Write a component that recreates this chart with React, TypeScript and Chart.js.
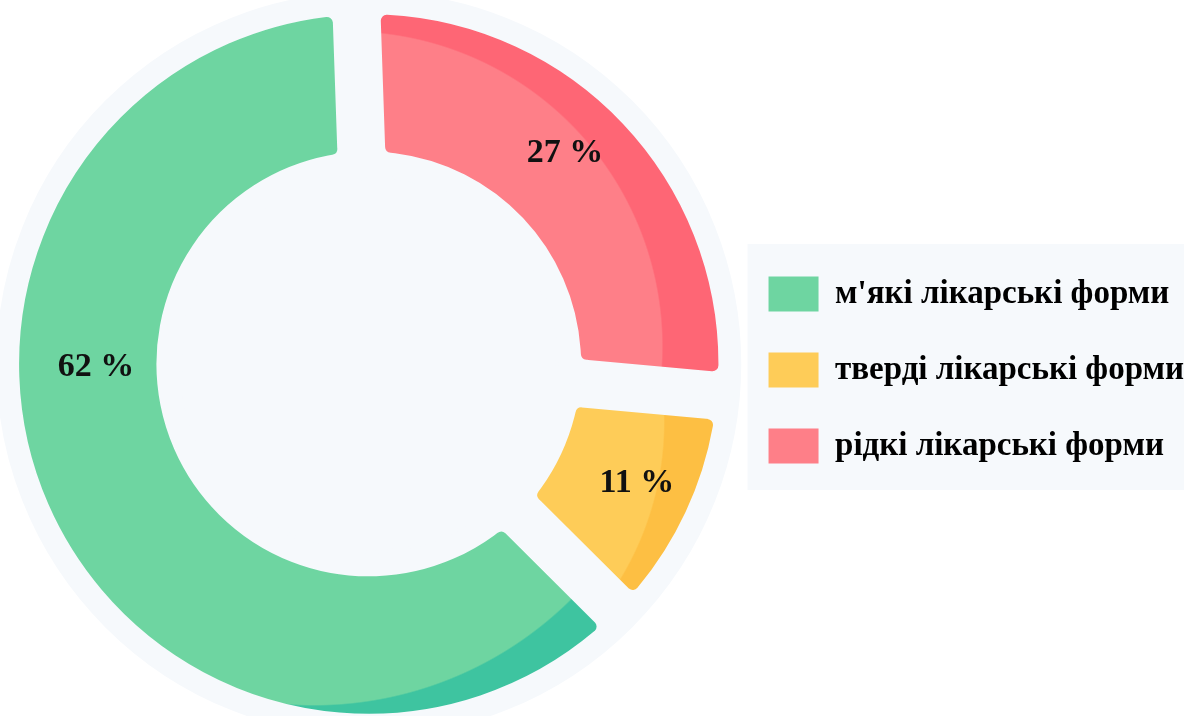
import React, { useEffect, useRef } from "react";
import { Chart, registerables } from "chart.js";

Chart.register(...registerables);

// ---- data ----
const categories = ["рідкі лікарські форми", "тверді лікарські форми", "м'які лікарські форми"];
const shares = [27, 11, 62];
const labelTexts = shares.map((v) => `${v} %`);

// ---- styles ----
const lightColors = ["#fe7f88", "#fecc58", "#6ed5a1"];
const darkColors = ["#fe6675", "#fdbf43", "#3ec4a0"];
// shading circle (relative to chart centre / outer radius)
const shadeDx = [-0.06, -0.02, -0.157];
const shadeDy = [-0.051, 0.166, -0.069];
const shadeR = [0.897, 0.862, 1.042];
// label placement tweaks
const labelAngleShift = [-3.6, -1, 23];
const labelRadiusFrac = [0.55, 0.59, 0.44];

const GAP_HALF = 24; // half of the gap between segments (inner border width)
const BG = "#f6f9fc";
const BG_EXTRA = 14;
const SERIF = "'Liberation Serif', 'Times New Roman', serif";

const bgPlugin = {
  id: "bgPlugin",
  beforeDraw(chart: any) {
    const { ctx, chartArea: ca } = chart;
    if (!ca) return;
    const cx = (ca.left + ca.right) / 2;
    const cy = (ca.top + ca.bottom) / 2;
    const R = Math.min(ca.width, ca.height) / 2;
    ctx.save();
    ctx.fillStyle = "#ffffff";
    ctx.fillRect(0, 0, chart.width, chart.height);
    ctx.fillStyle = BG;
    ctx.beginPath();
    ctx.arc(cx, cy, R + BG_EXTRA, 0, Math.PI * 2);
    ctx.fill();
    const lg = chart.legend;
    if (lg) {
      ctx.fillRect(lg.left + 20, cy - 120, lg.width - 30, 246);
    }
    ctx.restore();
  },
  afterDatasetsDraw(chart: any) {
    // hide anti-aliasing seams left by the clipped inner borders
    const { ctx, chartArea: ca } = chart;
    const meta = chart.getDatasetMeta(0);
    if (!ca || !meta.data.length) return;
    const R = Math.min(ca.width, ca.height) / 2;
    ctx.save();
    ctx.lineWidth = 3;
    ctx.strokeStyle = BG;
    meta.data.forEach((arc: any) => {
      const p = arc.getProps(["x", "y", "startAngle", "innerRadius"], true);
      ctx.beginPath();
      ctx.moveTo(p.x + Math.cos(p.startAngle) * (p.innerRadius - 4), p.y + Math.sin(p.startAngle) * (p.innerRadius - 4));
      ctx.lineTo(p.x + Math.cos(p.startAngle) * (R + BG_EXTRA - 1), p.y + Math.sin(p.startAngle) * (R + BG_EXTRA - 1));
      ctx.stroke();
    });
    const p0 = meta.data[0].getProps(["x", "y", "innerRadius", "outerRadius"], true);
    ctx.beginPath();
    ctx.arc(p0.x, p0.y, p0.innerRadius, 0, Math.PI * 2);
    ctx.stroke();
    ctx.strokeStyle = "#ffffff";
    ctx.beginPath();
    ctx.arc(p0.x, p0.y, p0.outerRadius, 0, Math.PI * 2);
    ctx.stroke();
    ctx.restore();
  },
};

const labelPlugin = {
  id: "labelPlugin",
  afterDatasetsDraw(chart: any) {
    const meta = chart.getDatasetMeta(0);
    const ctx = chart.ctx;
    ctx.save();
    ctx.font = `bold 34px ${SERIF}`;
    ctx.fillStyle = "#111111";
    ctx.textAlign = "center";
    ctx.textBaseline = "middle";
    meta.data.forEach((arc: any, i: number) => {
      const p = arc.getProps(["x", "y", "startAngle", "endAngle", "innerRadius", "outerRadius"], true);
      const mid = (p.startAngle + p.endAngle) / 2 + (labelAngleShift[i] * Math.PI) / 180;
      const inner = p.innerRadius + GAP_HALF;
      const outer = p.outerRadius - GAP_HALF;
      const r = inner + labelRadiusFrac[i] * (outer - inner);
      ctx.fillText(labelTexts[i], p.x + Math.cos(mid) * r, p.y + Math.sin(mid) * r);
    });
    ctx.restore();
  },
};

export default function App() {
  const ref = useRef<HTMLCanvasElement | null>(null);

  useEffect(() => {
    if (!ref.current) return;
    const chart = new Chart(ref.current, {
      type: "doughnut",
      data: {
        labels: categories,
        datasets: [
          {
            data: shares,
            backgroundColor: (c: any) => {
              const i = c.dataIndex;
              const ch = c.chart;
              const ca = ch.chartArea;
              if (i === undefined || !ca) return lightColors[i ?? 0];
              const cx = (ca.left + ca.right) / 2;
              const cy = (ca.top + ca.bottom) / 2;
              const R = Math.min(ca.width, ca.height) / 2;
              const gx = cx + shadeDx[i] * R;
              const gy = cy + shadeDy[i] * R;
              const gr = shadeR[i] * R;
              const g = ch.ctx.createRadialGradient(gx, gy, 0, gx, gy, gr + 1.5);
              g.addColorStop(0, lightColors[i]);
              g.addColorStop(gr / (gr + 1.5), lightColors[i]);
              g.addColorStop(1, darkColors[i]);
              return g;
            },
            borderWidth: GAP_HALF,
            borderAlign: "inner",
            borderColor: BG,
            borderRadius: 30,
            hoverOffset: 0,
            radius: 374,
            cutout: "50.27%",
          } as any,
        ],
      },
      options: {
        animation: false,
        responsive: true,
        maintainAspectRatio: false,
        rotation: -2,
        layout: { padding: { left: 10, top: 14, bottom: 2, right: 9 } },
        plugins: {
          tooltip: { enabled: false },
          title: { display: false },
          legend: {
            position: "right",
            reverse: true,
            title: { display: true, text: " ", font: { size: 10 }, padding: 0 },
            labels: {
              boxWidth: 50,
              boxHeight: 35,
              padding: 41,
              color: "#000000",
              font: { family: SERIF, size: 33, weight: "bold" },
              generateLabels: (ch: any) => {
                const base = (Chart as any).overrides.doughnut.plugins.legend.labels.generateLabels(ch);
                return base.map((it: any) => ({
                  ...it,
                  fillStyle: lightColors[it.index],
                  strokeStyle: lightColors[it.index],
                  lineWidth: 0,
                }));
              },
            },
          },
        },
      } as any,
      plugins: [bgPlugin, labelPlugin],
    });
    return () => chart.destroy();
  }, []);

  return (
    <div style={{ position: "fixed", left: 0, top: 0, width: 1203, height: 716, background: "#fff" }}>
      <canvas ref={ref} />
    </div>
  );
}
